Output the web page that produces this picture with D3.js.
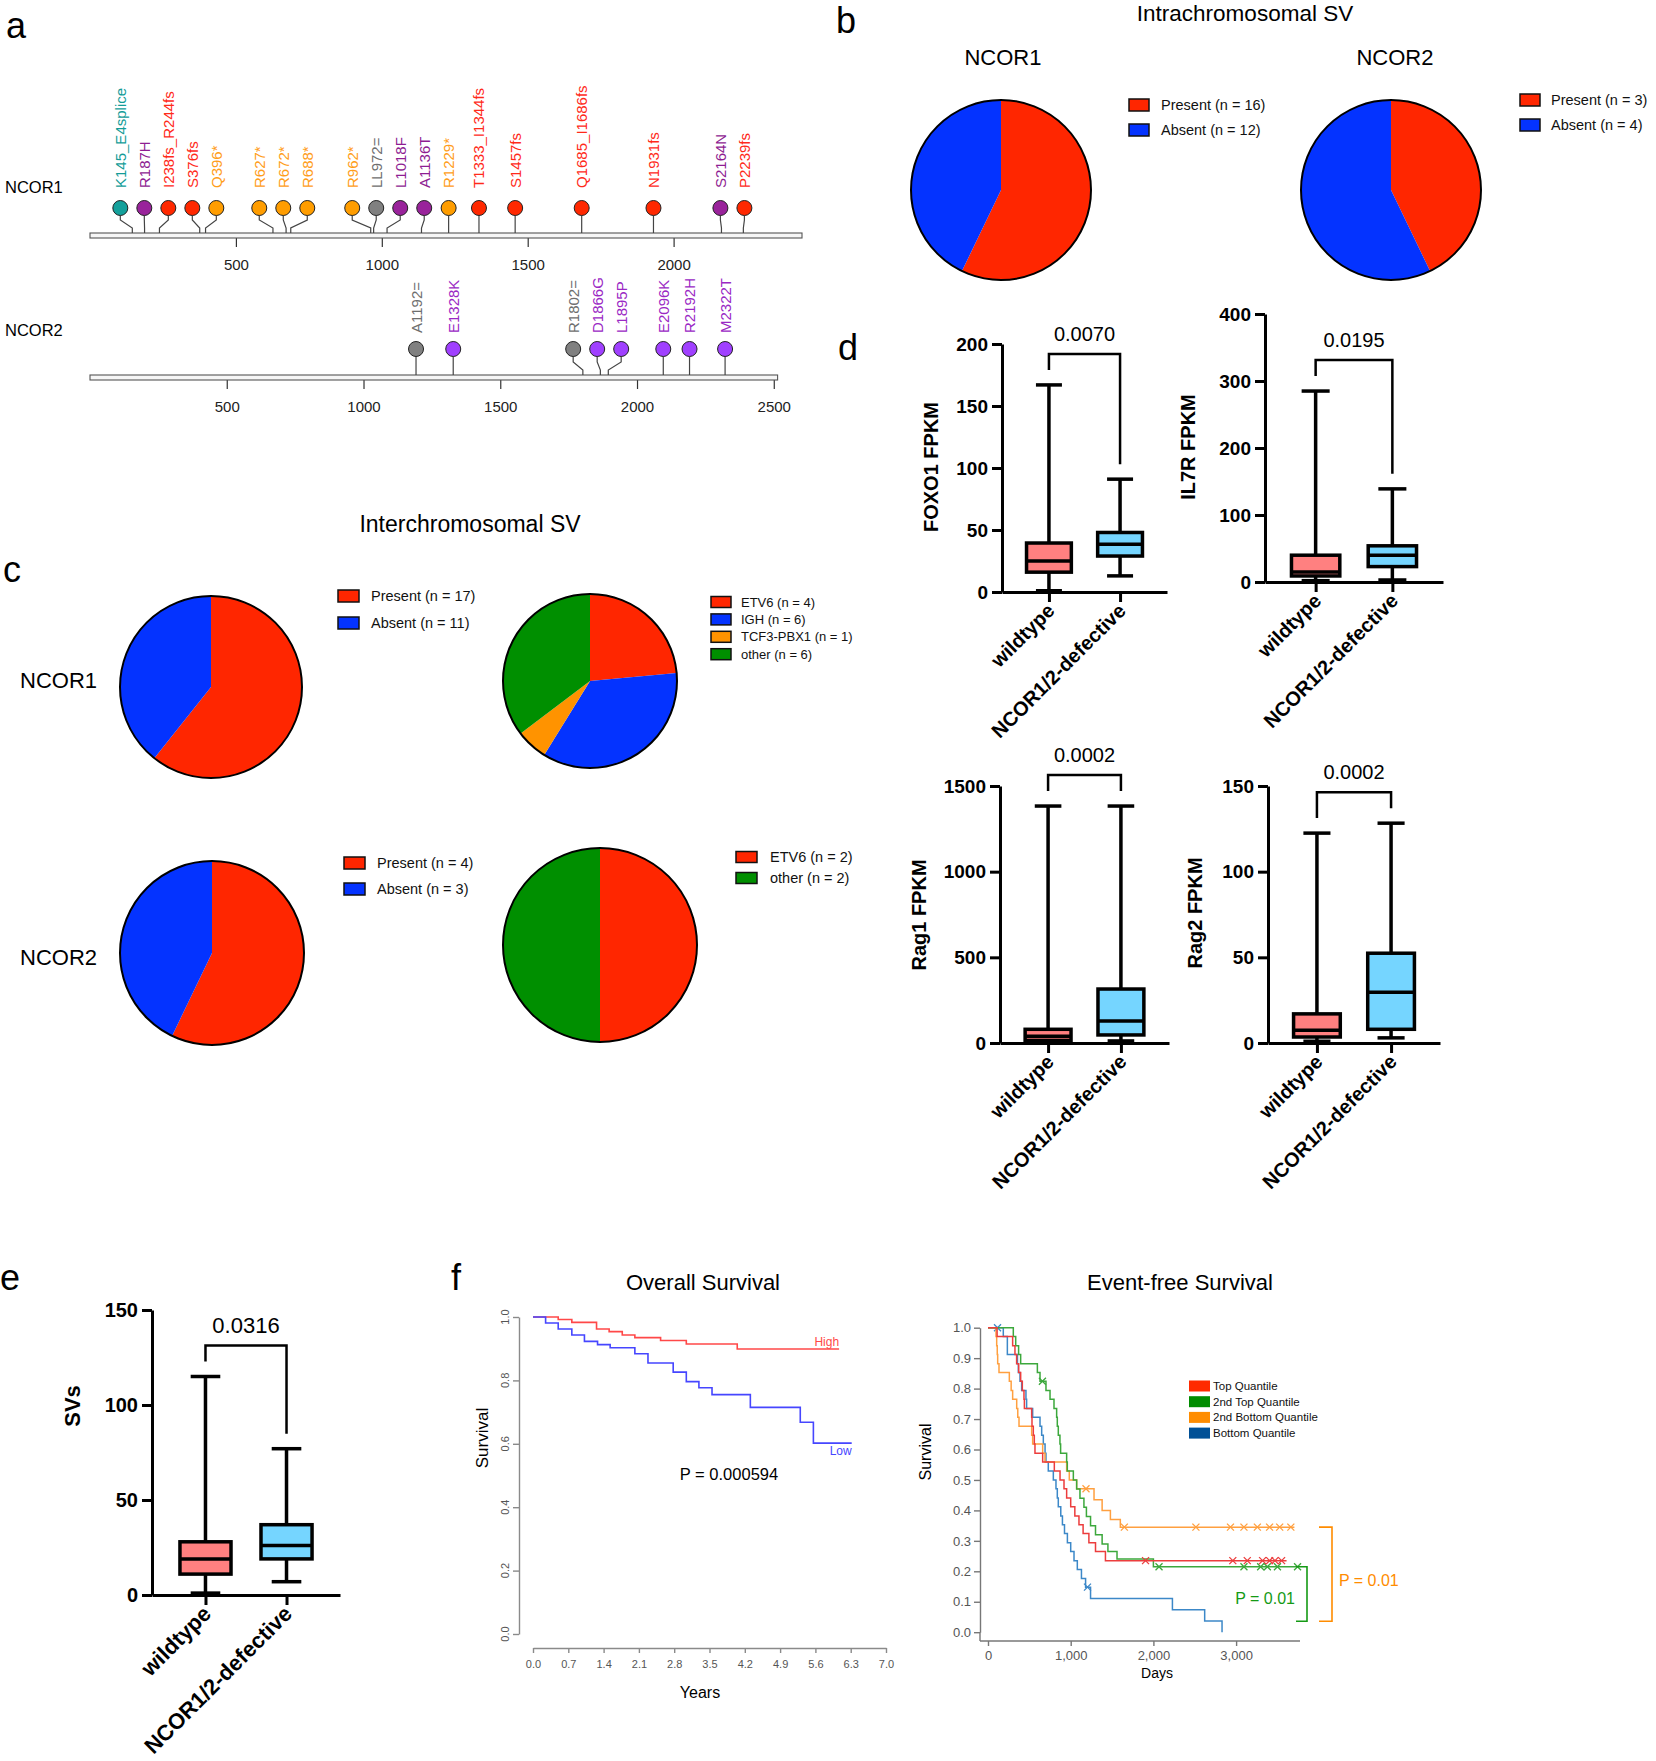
<!DOCTYPE html>
<html>
<head>
<meta charset="utf-8">
<script src="https://cdn.jsdelivr.net/npm/d3@7/dist/d3.min.js"></script>
<style>
html,body{margin:0;padding:0;background:#fff;}
svg{display:block;}
</style>
</head>
<body>
<svg id="fig" width="1656" height="1761" xmlns="http://www.w3.org/2000/svg"></svg>
<script>
// ---------------- DATA ----------------
// Panel a: lollipops
const ncor1Positions = [145,187,238,376,396,627,672,688,962,972,1018,1136,1229,1333,1457,1685,1931,2164,2239];
const ncor1Labels = ["K145_E4splice","R187H","I238fs_R244fs","S376fs","Q396*","R627*","R672*","R688*","R962*","LL972=","L1018F","A1136T","R1229*","T1333_I1344fs","S1457fs","Q1685_I1686fs","N1931fs","S2164N","P2239fs"];
const ncor1Types = ["splice","missense","frameshift","frameshift","nonsense","nonsense","nonsense","nonsense","nonsense","silent","missense","missense","nonsense","frameshift","frameshift","frameshift","frameshift","missense","frameshift"];
const ncor2Positions = [1192,1328,1802,1866,1895,2096,2192,2322];
const ncor2Labels = ["A1192=","E1328K","R1802=","D1866G","L1895P","E2096K","R2192H","M2322T"];
const ncor2Types = ["silent","missense","silent","missense","missense","missense","missense","missense"];
const proteinLengths = [2440, 2514];
const ncor1Ticks = [500,1000,1500,2000];
const ncor2Ticks = [500,1000,1500,2000,2500];

// Panel b / c: pies
const svStatus = ["Present","Absent"];
const intraNcor1 = [16,12];
const intraNcor2 = [3,4];
const interNcor1 = [17,11];
const interNcor2 = [4,3];
const partnersNcor1 = ["ETV6","IGH","TCF3-PBX1","other"];
const partnerCountsNcor1 = [4,6,1,6];
const partnersNcor2 = ["ETV6","other"];
const partnerCountsNcor2 = [2,2];

// Panel d / e: box plots [min, q1, median, q3, max]
const groups = ["wildtype","NCOR1/2-defective"];
const foxo1Box = [[1,16,25,39.5,167],[13,29,38.5,48,91]];
const il7rBox = [[2,9,15,40,285],[3,23,40,54,139]];
const rag1Box = [[2,15,40,80,1383],[12,47,128,315,1383]];
const rag2Box = [[1,3.5,7.5,17,122.5],[3,8,29.6,52.4,128.3]];
const svBox = [[1,11,19,28,115],[7,19,26,37,77]];
const pValues = ["0.0070","0.0195","0.0002","0.0002","0.0316"];
const foxo1Ticks = [0,50,100,150,200];
const il7rTicks = [0,100,200,300,400];
const rag1Ticks = [0,500,1000,1500];
const rag2Ticks = [0,50,100,150];
const svTicks = [0,50,100,150];

// Panel f: Overall survival [years, survival]
const osHigh = [[0,1],[0.50,0.992],[0.77,0.983],[1.26,0.962],[1.51,0.954],[1.77,0.943],[2.02,0.935],[2.53,0.926],[3.04,0.915],[4.05,0.899],[6.07,0.899]];
const osLow = [[0,1],[0.25,0.981],[0.50,0.962],[0.77,0.943],[1.02,0.923],[1.28,0.913],[1.53,0.903],[2.02,0.884],[2.28,0.855],[2.78,0.826],[3.04,0.796],[3.29,0.777],[3.55,0.755],[4.31,0.715],[5.30,0.668],[5.56,0.602],[6.32,0.602]];
const osXTicks = [0,0.7,1.4,2.1,2.8,3.5,4.2,4.9,5.6,6.3,7.0];
const osYTicks = [0,0.2,0.4,0.6,0.8,1.0];

// Panel f: Event-free survival [days, survival]
const efsNames = ["Top Quantile","2nd Top Quantile","2nd Bottom Quantile","Bottom Quantile"];
const efsTop = [[0,1],[110,0.971],[298,0.941],[326,0.912],[346,0.882],[371,0.853],[395,0.824],[415,0.794],[435,0.765],[440,0.735],[528,0.706],[532,0.676],[548,0.647],[560,0.618],[568,0.588],[661,0.559],[802,0.529],[871,0.5],[919,0.471],[951,0.441],[1000,0.412],[1050,0.382],[1100,0.353],[1150,0.324],[1220,0.294],[1300,0.265],[1420,0.235],[3610,0.235]];
const efs2ndTop = [[0,1],[306,0.971],[335,0.941],[370,0.912],[395,0.882],[597,0.853],[629,0.824],[701,0.794],[750,0.765],[798,0.735],[830,0.706],[838,0.676],[850,0.647],[870,0.618],[878,0.588],[951,0.559],[959,0.529],[1032,0.5],[1072,0.47],[1112,0.44],[1160,0.41],[1190,0.38],[1240,0.35],[1300,0.32],[1380,0.29],[1450,0.265],[1560,0.24],[2000,0.215],[3745,0.215]];
const efs2ndBottom = [[0,1],[97,0.971],[105,0.941],[112,0.912],[117,0.882],[133,0.853],[258,0.824],[280,0.794],[298,0.765],[347,0.735],[360,0.706],[375,0.676],[528,0.647],[540,0.618],[661,0.588],[689,0.559],[951,0.529],[983,0.5],[1072,0.471],[1282,0.435],[1380,0.40],[1480,0.37],[1600,0.345],[3705,0.345]];
const efsBottom = [[0,1],[185,0.971],[234,0.912],[356,0.882],[367,0.853],[387,0.824],[407,0.794],[459,0.765],[467,0.735],[540,0.706],[629,0.676],[649,0.647],[669,0.618],[690,0.588],[701,0.559],[729,0.529],[790,0.5],[822,0.471],[838,0.441],[850,0.412],[880,0.382],[900,0.353],[925,0.324],[960,0.294],[1000,0.265],[1040,0.235],[1080,0.206],[1130,0.176],[1180,0.148],[1240,0.111],[2230,0.074],[2620,0.037],[2830,0]];
const efsTopCensor = [[1905,0.235],[2960,0.235],[3135,0.235],[3320,0.235],[3405,0.235],[3470,0.235],[3550,0.235]];
const efs2ndTopCensor = [[658,0.824],[2068,0.215],[3095,0.215],[3297,0.215],[3378,0.215],[3500,0.215],[3743,0.215]];
const efs2ndBottomCensor = [[1185,0.471],[1649,0.345],[2514,0.345],[2932,0.345],[3095,0.345],[3257,0.345],[3405,0.345],[3527,0.345],[3662,0.345]];
const efsBottomCensor = [[115,1.0],[1203,0.148]];
const efsXTicks = [0,1000,2000,3000];
const efsYTicks = [0,0.1,0.2,0.3,0.4,0.5,0.6,0.7,0.8,0.9,1.0];

// ---------------- DRAWING ----------------
const FONT = "Arial, 'Liberation Sans', Helvetica, sans-serif";
const svg = d3.select("#fig").attr("font-family", FONT);
svg.append("rect").attr("width",1656).attr("height",1761).attr("fill","#fff");
const intFmt = d3.format("d");

function txt(parent, x, y, s, o = {}) {
  const t = parent.append("text").attr("x", x).attr("y", y).text(s)
    .attr("font-size", o.size || 14).attr("fill", o.fill || "#000")
    .attr("text-anchor", o.anchor || "start");
  if (o.weight) t.attr("font-weight", o.weight);
  if (o.baseline) t.attr("dominant-baseline", o.baseline);
  if (o.rotate != null) t.attr("transform", `rotate(${o.rotate},${x},${y})`);
  return t;
}

// panel letters
[["a",6,38],["b",836,33],["c",3,582],["d",838,360],["e",0,1290],["f",451,1290]]
  .forEach(([l,x,y]) => txt(svg, x, y, l, {size:36}));

// ---------- Panel a ----------
function dodge(xs, gap) {
  let cl = xs.map((x,i) => ({items:[i]}));
  const mean = c => d3.mean(c.items, i => xs[i]);
  let changed = true;
  while (changed) {
    changed = false;
    for (let k = 0; k < cl.length - 1; k++) {
      const a = cl[k], b = cl[k+1];
      const aR = mean(a) + (a.items.length-1)/2*gap;
      const bL = mean(b) - (b.items.length-1)/2*gap;
      if (bL - aR < gap) { cl.splice(k, 2, {items: a.items.concat(b.items)}); changed = true; break; }
    }
  }
  const out = [];
  cl.forEach(c => { const m = mean(c); c.items.forEach((i,j) => out[i] = m + (j-(c.items.length-1)/2)*gap); });
  return out;
}
const fillNcor1 = {splice:"#14a09b", missense:"#99239b", frameshift:"#ff2800", nonsense:"#ff9d00", silent:"#808080"};
const textNcor1 = {splice:"#139c98", missense:"#8e1d92", frameshift:"#ff2a1a", nonsense:"#ff9d1a", silent:"#6e6e6e"};
const fillNcor2 = {missense:"#a040ff", silent:"#808080"};
const textNcor2 = {missense:"#9a28c4", silent:"#6e6e6e"};

function lollipop(positions, labels, types, length, rangeEnd, ticks, L, fills, texts) {
  const x = d3.scaleLinear().domain([0, length]).range([90, rangeEnd]);
  const g = svg.append("g");
  const ax = g.append("g").attr("transform", `translate(0,${L.barTop+5})`)
    .call(d3.axisBottom(x).tickValues(ticks).tickSize(9).tickSizeOuter(0).tickPadding(12.5).tickFormat(intFmt));
  ax.attr("font-family", FONT);
  ax.select(".domain").remove();
  ax.selectAll(".tick line").attr("stroke","#333").attr("stroke-width",1.2);
  ax.selectAll(".tick text").attr("font-size",15).attr("fill","#222");
  g.append("rect").attr("x", x(0)).attr("y", L.barTop).attr("width", x(length)-x(0)).attr("height",5)
    .attr("fill","#f6f6f6").attr("stroke","#555").attr("stroke-width",1.1);
  const px = positions.map(p => x(p));
  const cx = dodge(px, 24);
  positions.forEach((p,i) => {
    const pts = [[cx[i], L.cy+7.5],[cx[i], L.bend1],[px[i], L.bend2],[px[i], L.barTop]];
    g.append("path").attr("d", d3.line()(pts)).attr("fill","none").attr("stroke","#444").attr("stroke-width",1.2);
    g.append("circle").attr("cx", cx[i]).attr("cy", L.cy).attr("r", 7.5)
      .attr("fill", fills[types[i]]).attr("stroke","#222").attr("stroke-width",1);
    g.append("text").attr("transform", `translate(${cx[i]},${L.labelBase}) rotate(-90)`)
      .attr("dominant-baseline","central").attr("font-size",15).attr("fill", texts[types[i]]).text(labels[i]);
  });
}
lollipop(ncor1Positions, ncor1Labels, ncor1Types, proteinLengths[0], 802, ncor1Ticks,
  {cy:208, bend1:220, bend2:228, barTop:233, labelBase:188}, fillNcor1, textNcor1);
lollipop(ncor2Positions, ncor2Labels, ncor2Types, proteinLengths[1], 777.6, ncor2Ticks,
  {cy:349, bend1:362, bend2:370, barTop:375, labelBase:333}, fillNcor2, textNcor2);
txt(svg, 5, 193, "NCOR1", {size:16.5});
txt(svg, 5, 336, "NCOR2", {size:16.5});

// ---------- Panels b, c ----------
const statusColors = ["#ff2600","#0433ff"];
const partnerColors = {"ETV6":"#ff2600","IGH":"#0433ff","TCF3-PBX1":"#ff9300","other":"#008f00"};
function pie(cx, cy, r, values, colors) {
  const arcs = d3.pie().sort(null)(values);
  const arc = d3.arc().innerRadius(0).outerRadius(r);
  const g = svg.append("g").attr("transform", `translate(${cx},${cy})`);
  g.selectAll("path").data(arcs).join("path").attr("d", arc).attr("fill", (d,i) => colors[i]);
  g.append("circle").attr("r", r).attr("fill","none").attr("stroke","#000").attr("stroke-width",2);
}
function legend(x, y0, dy, labels, values, colors, o) {
  labels.forEach((l,i) => {
    const y = y0 + i*dy;
    svg.append("rect").attr("x", x).attr("y", y - o.bh/2).attr("width", o.bw).attr("height", o.bh)
      .attr("fill", colors[i]).attr("stroke","#111").attr("stroke-width",1.5);
    txt(svg, x + o.tx, y, `${l} (n = ${values[i]})`, {size:o.size, baseline:"central", fill:"#111"});
  });
}
txt(svg, 1245, 21, "Intrachromosomal SV", {size:22.5, anchor:"middle"});
txt(svg, 1003, 65, "NCOR1", {size:22, anchor:"middle"});
txt(svg, 1395, 65, "NCOR2", {size:22, anchor:"middle"});
pie(1001, 190, 90, intraNcor1, statusColors);
pie(1391, 190, 90, intraNcor2, statusColors);
legend(1129, 105, 25, svStatus, intraNcor1, statusColors, {bw:20, bh:12, tx:32, size:14.5});
legend(1520, 100, 25, svStatus, intraNcor2, statusColors, {bw:20, bh:12, tx:31, size:14.5});

txt(svg, 470, 532, "Interchromosomal SV", {size:23, anchor:"middle"});
txt(svg, 20, 688, "NCOR1", {size:22});
txt(svg, 20, 965, "NCOR2", {size:22});
pie(211, 687, 91, interNcor1, statusColors);
pie(212, 953, 92, interNcor2, statusColors);
legend(338, 596, 27, svStatus, interNcor1, statusColors, {bw:21, bh:12, tx:33, size:14.5});
legend(344, 863, 26, svStatus, interNcor2, statusColors, {bw:21, bh:12, tx:33, size:14.5});
pie(590, 681, 87, partnerCountsNcor1, partnersNcor1.map(p => partnerColors[p]));
pie(600, 945, 97, partnerCountsNcor2, partnersNcor2.map(p => partnerColors[p]));
legend(711, 602, 17.4, partnersNcor1, partnerCountsNcor1, partnersNcor1.map(p => partnerColors[p]), {bw:20, bh:11, tx:30, size:13});
legend(736, 857, 21, partnersNcor2, partnerCountsNcor2, partnersNcor2.map(p => partnerColors[p]), {bw:21, bh:11, tx:34, size:14.5});

// ---------- Panels d, e: box plots ----------
const boxFill = ["#ff8080","#75d5ff"];
function boxPanel(c) {
  const g = svg.append("g");
  const y = d3.scaleLinear().domain([0, c.ticks[c.ticks.length-1]]).range([c.y0, c.yTop]);
  const x = d3.scalePoint().domain(groups).range([c.axisX, c.xEnd]).padding(0.66);
  const bw = x.step()*0.63, cw = bw*0.58;
  const ya = g.append("g").attr("transform", `translate(${c.axisX},0)`)
    .call(d3.axisLeft(y).tickValues(c.ticks).tickSize(10).tickSizeOuter(0).tickPadding(4).tickFormat(intFmt));
  ya.attr("font-family", FONT);
  ya.select(".domain").attr("stroke-width",3).attr("stroke","#000");
  ya.selectAll(".tick line").attr("stroke-width",3).attr("stroke","#000");
  ya.selectAll(".tick text").attr("font-size", c.tickFs).attr("font-weight","bold").attr("fill","#000");
  const xa = g.append("g").attr("transform", `translate(0,${c.y0})`)
    .call(d3.axisBottom(x).tickSize(10).tickSizeOuter(0).tickFormat(""));
  xa.select(".domain").attr("stroke-width",3).attr("stroke","#000");
  xa.selectAll(".tick line").attr("stroke-width",3).attr("stroke","#000");
  groups.forEach(gr => txt(g, x(gr) + 7, c.y0 + 20, gr, {size:c.xFs, weight:"bold", anchor:"end", rotate:-45}));
  c.data.forEach((d,i) => {
    const cx = x(groups[i]);
    const sw = 3.5;
    g.append("line").attr("x1",cx).attr("x2",cx).attr("y1",y(d[0])).attr("y2",y(d[4])).attr("stroke","#000").attr("stroke-width",sw);
    [d[0], d[4]].forEach(v => g.append("line").attr("x1",cx-cw/2).attr("x2",cx+cw/2).attr("y1",y(v)).attr("y2",y(v)).attr("stroke","#000").attr("stroke-width",sw));
    g.append("rect").attr("x",cx-bw/2).attr("y",y(d[3])).attr("width",bw).attr("height",y(d[1])-y(d[3]))
      .attr("fill",boxFill[i]).attr("stroke","#000").attr("stroke-width",sw);
    g.append("line").attr("x1",cx-bw/2).attr("x2",cx+bw/2).attr("y1",y(d[2])).attr("y2",y(d[2])).attr("stroke","#000").attr("stroke-width",sw);
  });
  const legs = c.data.map(d => y(d[4]) - 15);
  const top = Math.min(...legs) - 16;
  const x0 = x(groups[0]), x1 = x(groups[1]);
  g.append("path").attr("d", `M${x0},${legs[0]}V${top}H${x1}V${legs[1]}`).attr("fill","none").attr("stroke","#000").attr("stroke-width",2.5);
  txt(g, (x0+x1)/2, top - 13, c.p, {size:c.pFs, anchor:"middle"});
  g.append("text").attr("transform", `translate(${c.labelX},${c.labelY}) rotate(-90)`)
    .attr("text-anchor","middle").attr("dominant-baseline","central").attr("font-size",c.yFs).attr("font-weight","bold").text(c.label);
}
boxPanel({data:foxo1Box, ticks:foxo1Ticks, axisX:1002, xEnd:1167, y0:592, yTop:344, p:pValues[0], label:"FOXO1 FPKM", labelX:931, labelY:467, tickFs:19, xFs:20, pFs:20, yFs:20});
boxPanel({data:il7rBox, ticks:il7rTicks, axisX:1265, xEnd:1443, y0:582, yTop:314, p:pValues[1], label:"IL7R FPKM", labelX:1188, labelY:447, tickFs:19, xFs:20, pFs:20, yFs:20});
boxPanel({data:rag1Box, ticks:rag1Ticks, axisX:1000, xEnd:1169, y0:1043, yTop:786, p:pValues[2], label:"Rag1 FPKM", labelX:919, labelY:915, tickFs:19, xFs:20, pFs:20, yFs:20});
boxPanel({data:rag2Box, ticks:rag2Ticks, axisX:1268, xEnd:1440, y0:1043, yTop:786, p:pValues[3], label:"Rag2 FPKM", labelX:1195, labelY:913, tickFs:19, xFs:20, pFs:20, yFs:20});
boxPanel({data:svBox, ticks:svTicks, axisX:152, xEnd:340, y0:1595, yTop:1310, p:pValues[4], label:"SVs", labelX:72, labelY:1406, tickFs:20, xFs:22, pFs:22, yFs:22});

// ---------- Panel f: Overall survival ----------
{
  const g = svg.append("g");
  const x = d3.scaleLinear().domain([0,7]).range([533,886]);
  const y = d3.scaleLinear().domain([0,1]).range([1634,1317]);
  txt(g, 703, 1290, "Overall Survival", {size:22, anchor:"middle"});
  const ya = g.append("g").attr("transform","translate(519,0)")
    .call(d3.axisLeft(y).tickValues(osYTicks).tickSize(6).tickSizeOuter(0).tickFormat(""));
  ya.selectAll(".domain, .tick line").attr("stroke","#8a8a8a").attr("stroke-width",1.4);
  osYTicks.forEach(t => g.append("text").attr("transform",`translate(505,${y(t)}) rotate(-90)`)
    .attr("text-anchor","middle").attr("dominant-baseline","central").attr("font-size",11).attr("fill","#555").text(d3.format(".1f")(t)));
  const xa = g.append("g").attr("transform","translate(0,1648)")
    .call(d3.axisBottom(x).tickValues(osXTicks).tickSize(5).tickSizeOuter(0).tickPadding(7).tickFormat(d3.format(".1f")));
  xa.attr("font-family", FONT);
  xa.selectAll(".domain, .tick line").attr("stroke","#8a8a8a").attr("stroke-width",1.4);
  xa.selectAll(".tick text").attr("font-size",11).attr("fill","#555");
  g.append("text").attr("transform","translate(482,1438) rotate(-90)").attr("text-anchor","middle")
    .attr("dominant-baseline","central").attr("font-size",17).text("Survival");
  txt(g, 700, 1698, "Years", {size:16, anchor:"middle"});
  const line = d3.line().x(d => x(d[0])).y(d => y(d[1])).curve(d3.curveStepAfter);
  g.append("path").attr("d", line(osHigh)).attr("fill","none").attr("stroke","#ff4848").attr("stroke-width",1.6);
  g.append("path").attr("d", line(osLow)).attr("fill","none").attr("stroke","#4646ff").attr("stroke-width",1.6);
  const hi = osHigh[osHigh.length-1], lo = osLow[osLow.length-1];
  txt(g, x(hi[0]), y(hi[1]) - 3, "High", {size:12, anchor:"end", fill:"#ff4848"});
  txt(g, x(lo[0]), y(lo[1]) + 12, "Low", {size:12, anchor:"end", fill:"#4646ff"});
  txt(g, 729, 1480, "P = 0.000594", {size:16.5, anchor:"middle"});
}

// ---------- Panel f: Event-free survival ----------
{
  const g = svg.append("g");
  const x = d3.scaleLinear().domain([0,3000]).range([988,1236.1]);
  const y = d3.scaleLinear().domain([0,1]).range([1632.2,1327.7]);
  txt(g, 1180, 1290, "Event-free Survival", {size:22, anchor:"middle"});
  const ya = g.append("g").attr("transform","translate(980,0)")
    .call(d3.axisLeft(y).tickValues(efsYTicks).tickSize(6).tickSizeOuter(0).tickPadding(3).tickFormat(d3.format(".1f")));
  ya.attr("font-family", FONT);
  ya.selectAll(".domain, .tick line").attr("stroke","#777").attr("stroke-width",1.4);
  ya.selectAll(".tick text").attr("font-size",13).attr("fill","#555");
  g.append("line").attr("x1",980).attr("x2",980).attr("y1",y(0)).attr("y2",1641).attr("stroke","#777").attr("stroke-width",1.4);
  const xa = g.append("g").attr("transform","translate(0,1641)")
    .call(d3.axisBottom(x).tickValues(efsXTicks).tickSize(5).tickSizeOuter(0).tickPadding(5).tickFormat(d3.format(",")));
  xa.attr("font-family", FONT);
  xa.select(".domain").remove();
  xa.selectAll(".tick line").attr("stroke","#777").attr("stroke-width",1.4);
  xa.selectAll(".tick text").attr("font-size",13).attr("fill","#555");
  g.append("line").attr("x1",980).attr("x2",1300).attr("y1",1641).attr("y2",1641).attr("stroke","#777").attr("stroke-width",1.4);
  txt(g, 1157, 1678, "Days", {size:14, anchor:"middle"});
  g.append("text").attr("transform","translate(925,1452) rotate(-90)").attr("text-anchor","middle")
    .attr("dominant-baseline","central").attr("font-size",16).text("Survival");
  const curves = [efsTop, efs2ndTop, efs2ndBottom, efsBottom];
  const censors = [efsTopCensor, efs2ndTopCensor, efs2ndBottomCensor, efsBottomCensor];
  const lineCol = ["#ec3d3d","#3ca83c","#ffa040","#3c88c8"];
  const legCol = ["#ff2a00","#008c00","#ff8c00","#005096"];
  const line = d3.line().x(d => x(d[0])).y(d => y(d[1])).curve(d3.curveStepAfter);
  [3,2,1,0].forEach(i => {
    g.append("path").attr("d", line(curves[i])).attr("fill","none").attr("stroke",lineCol[i]).attr("stroke-width",1.5);
    censors[i].forEach(([d,s]) => {
      const X = x(d), Y = y(s), k = 3.5;
      g.append("path").attr("d",`M${X-k},${Y-k}L${X+k},${Y+k}M${X-k},${Y+k}L${X+k},${Y-k}`)
        .attr("stroke",lineCol[i]).attr("stroke-width",1.3);
    });
  });
  efsNames.forEach((n,i) => {
    const yy = 1386 + i*15.7;
    g.append("rect").attr("x",1189).attr("y",yy-5.5).attr("width",21).attr("height",11).attr("fill",legCol[i]);
    txt(g, 1213, yy, n, {size:11.5, baseline:"central", fill:"#111"});
  });
  // P-value brackets
  const gY = [0.215, 0.036], oY = [0.345, 0.036];
  g.append("path").attr("d",`M1296,${y(gY[0])}H1307V${y(gY[1])}H1296`).attr("fill","none").attr("stroke","#159a15").attr("stroke-width",1.6);
  g.append("path").attr("d",`M1319,${y(oY[0])}H1332V${y(oY[1])}H1319`).attr("fill","none").attr("stroke","#ff8c00").attr("stroke-width",1.6);
  txt(g, 1295, 1604, "P = 0.01", {size:16, anchor:"end", fill:"#159a15"});
  txt(g, 1339, 1586, "P = 0.01", {size:16, fill:"#ff8c00"});
}
</script>
</body>
</html>
